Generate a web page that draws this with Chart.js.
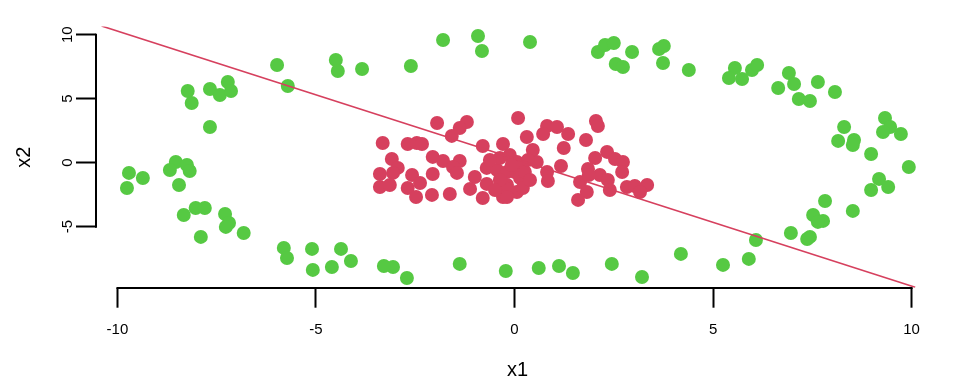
<!DOCTYPE html>
<html>
<head>
<meta charset="utf-8">
<script src="https://cdn.jsdelivr.net/npm/chart.js@4/dist/chart.umd.min.js"></script>
<style>
  html, body { margin: 0; padding: 0; background: #ffffff; }
  #wrap { width: 960px; height: 384px; }
</style>
</head>
<body>
<div id="wrap"><canvas id="c" width="960" height="384"></canvas></div>
<script>
// ---- data ----
const xTicks = [-10, -5, 0, 5, 10];
const yTicks = [-5, 0, 5, 10];
const xTitle = "x1";
const yTitle = "x2";

const greenX = [-9.71,-9.36,-9.76,-8.53,-8.68,-8.25,-8.18,-8.45,-8.03,-7.80,
  -8.33,-7.90,-7.29,-7.19,-7.27,-6.82,-5.81,-5.73,-8.23,-8.13,
  -7.67,-7.42,-7.22,-7.14,-7.67,-5.98,-5.71,-4.50,-4.45,-3.84,
  -2.61,-1.80,-0.92,-0.82,0.39,2.10,2.28,2.50,2.96,2.55,
  2.73,3.64,3.76,3.74,4.39,5.55,5.40,5.73,5.98,6.11,
  6.64,6.91,7.04,7.64,7.16,7.44,8.07,8.30,8.15,8.55,
  8.52,8.98,9.33,9.46,9.28,9.73,9.93,9.18,9.41,8.98,
  8.52,7.82,7.52,7.77,7.64,6.96,7.44,7.37,6.08,5.90,
  5.25,4.19,3.21,2.45,1.47,1.12,0.61,-0.22,-1.38,-2.71,
  -3.06,-3.29,-4.12,-4.37,-4.60,-5.08,-5.10];
const greenY = [-0.80,-1.20,-1.98,0.05,-0.57,-0.18,-0.65,-1.74,-3.54,-3.54,
  -4.09,-5.80,-4.01,-4.71,-5.02,-5.49,-6.66,-7.45,5.60,4.66,
  5.76,5.29,6.30,5.60,2.79,7.63,5.99,8.02,7.16,7.32,
  7.55,9.59,9.90,8.73,9.43,8.65,9.20,9.35,8.65,7.71,
  7.48,8.88,9.12,7.79,7.24,7.40,6.62,6.54,7.24,7.63,
  5.84,7.01,6.15,6.30,4.98,4.82,5.52,2.79,1.70,1.77,
  1.38,0.68,3.49,2.79,2.40,2.24,-0.34,-1.27,-1.90,-2.13,
  -3.77,-2.99,-4.09,-4.55,-4.63,-5.49,-5.80,-5.96,-6.04,-7.52,
  -7.99,-7.13,-8.93,-7.91,-8.62,-8.07,-8.23,-8.46,-7.91,-9.01,
  -8.15,-8.07,-7.68,-6.74,-8.15,-8.38,-6.74];

const redX = [-1.95,-1.20,-1.38,-1.58,-3.32,-2.69,-2.46,-2.33,-0.80,-0.29,
  0.09,-3.09,-2.06,-1.80,-1.38,-1.55,-2.94,-3.39,-3.06,-2.58,
  -2.06,-1.45,-1.00,-0.70,-0.44,-3.39,-3.14,-2.69,-2.38,-2.48,
  -2.08,-1.63,-1.12,-0.70,-0.80,-0.29,-0.19,0.01,-0.37,-0.12,
  0.06,0.82,1.07,1.35,0.72,0.31,2.05,2.10,1.80,1.24,
  0.46,0.19,0.56,1.17,0.82,0.84,2.33,2.03,2.53,2.73,
  1.85,2.15,2.35,2.71,1.65,1.87,2.40,2.83,3.03,3.34,
  3.16,1.82,1.60,-0.24,0.06,-0.19,0.14,-0.19,-0.07,0.26,
  -0.37,0.34,0.21,-0.49,0.39,-0.62];
const redY = [3.10,3.18,2.71,2.09,1.54,1.46,1.54,1.46,1.30,1.46,
  3.49,0.29,0.45,0.13,0.13,-0.34,-0.41,-0.88,-0.80,-0.96,
  -0.88,-0.80,-1.12,-0.41,-0.57,-1.90,-1.74,-1.98,-1.59,-2.68,
  -2.52,-2.45,-2.05,-1.66,-2.76,-2.68,-1.74,-0.73,0.37,0.60,
  0.05,2.87,2.79,2.24,2.24,2.01,3.26,2.87,1.77,1.15,
  0.99,-0.18,0.05,-0.26,-0.73,-1.43,0.84,0.37,0.29,0.05,
  -0.49,-0.96,-1.35,-0.73,-1.51,-0.96,-2.13,-1.90,-1.82,-1.74,
  -2.29,-2.29,-2.91,-1.98,-2.29,-2.68,-1.20,-0.73,-0.18,-0.73,
  -1.35,0.21,-1.98,-2.13,-1.35,0.21];

const lineX = [-10.40, 10.09];
const lineY = [10.68, -9.73];

// ---- styling ----
const RED = '#D6405E';
const GREEN = '#56C943';
const FONT = "'Liberation Sans', Arial, Helvetica, sans-serif";

const toPts = (xs, ys) => xs.map((v, i) => ({x: v, y: ys[i]}));

const axisLines = {
  id: 'axisLines',
  afterDraw(chart) {
    const {ctx, chartArea, scales} = chart;
    const xs = scales.x, ys = scales.y;
    ctx.save();
    ctx.strokeStyle = '#000000';
    ctx.lineWidth = 2;
    ctx.lineCap = 'butt';
    ctx.beginPath();
    const yb = Math.round(chartArea.bottom);
    ctx.moveTo(xs.getPixelForValue(xTicks[0]) - 1, yb);
    ctx.lineTo(xs.getPixelForValue(xTicks[xTicks.length - 1]) + 1, yb);
    const xl = Math.round(chartArea.left);
    ctx.moveTo(xl, ys.getPixelForValue(yTicks[0]) + 1);
    ctx.lineTo(xl, ys.getPixelForValue(yTicks[yTicks.length - 1]) - 1);
    ctx.stroke();
    ctx.restore();
  }
};

new Chart(document.getElementById('c'), {
  type: 'scatter',
  data: {
    datasets: [
      {
        type: 'line',
        data: toPts(lineX, lineY),
        borderColor: RED,
        borderWidth: 1.6,
        pointRadius: 0,
        fill: false,
        tension: 0
      },
      {
        data: toPts(redX, redY),
        backgroundColor: RED,
        borderWidth: 0,
        pointRadius: 7,
        pointHoverRadius: 7
      },
      {
        data: toPts(greenX, greenY),
        backgroundColor: GREEN,
        borderWidth: 0,
        pointRadius: 7,
        pointHoverRadius: 7
      }
    ]
  },
  options: {
    responsive: false,
    devicePixelRatio: 1,
    animation: false,
    events: [],
    layout: { padding: { left: 0, right: 21, top: 26.5, bottom: 0 } },
    plugins: { legend: { display: false }, tooltip: { enabled: false } },
    scales: {
      x: {
        type: 'linear',
        min: -10.54,
        max: 10.69,
        afterBuildTicks: (s) => { s.ticks = xTicks.map(v => ({value: v})); },
        afterFit: (s) => { s.height = 96.3; },
        border: { display: false },
        grid: { display: true, drawOnChartArea: false, drawTicks: true, tickLength: 20, tickWidth: 2, tickColor: '#000000' },
        ticks: {
          color: '#000000',
          font: { family: FONT, size: 15 },
          padding: 13,
          maxRotation: 0,
          minRotation: 0,
          autoSkip: false,
          callback: (v) => String(v)
        },
        title: {
          display: true,
          text: xTitle,
          color: '#000000',
          font: { family: FONT, size: 20 },
          padding: { top: 0, bottom: 2 }
        }
      },
      y: {
        type: 'linear',
        min: -9.77,
        max: 10.64,
        afterBuildTicks: (s) => { s.ticks = yTicks.map(v => ({value: v})); },
        afterFit: (s) => { s.width = 96; },
        border: { display: false },
        grid: { display: true, drawOnChartArea: false, drawTicks: true, tickLength: 20, tickWidth: 2, tickColor: '#000000' },
        ticks: {
          color: '#000000',
          font: { family: FONT, size: 15 },
          padding: 0,
          minRotation: 90,
          maxRotation: 90,
          crossAlign: 'center',
          autoSkip: false,
          callback: (v) => String(v)
        },
        title: {
          display: true,
          text: yTitle,
          color: '#000000',
          font: { family: FONT, size: 20 },
          padding: { top: 12, bottom: 0 }
        }
      }
    }
  },
  plugins: [axisLines]
});
</script>
</body>
</html>
